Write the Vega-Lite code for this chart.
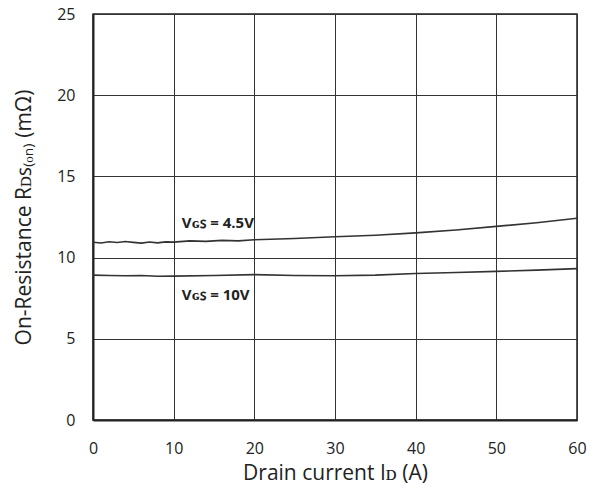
{
  "$schema": "https://vega.github.io/schema/vega-lite/v6.json",
  "width": 484,
  "height": 406,
  "autosize": {"type": "none"},
  "padding": {"left": 93, "top": 14, "right": 13, "bottom": 65},
  "background": "white",
  "config": {
    "font": "Open Sans",
    "view": {"stroke": "#222", "strokeWidth": 1.5},
    "axis": {
      "grid": true,
      "gridColor": "#333",
      "gridWidth": 1,
      "gridOpacity": 1,
      "domainColor": "#222",
      "domainWidth": 2,
      "ticks": false,
      "labelFlush": false,
      "labelFont": "Open Sans",
      "labelFontSize": 16,
      "labelColor": "#222",
      "titleFont": "Open Sans",
      "titleFontSize": 21,
      "titleFontWeight": "normal",
      "titleColor": "#222"
    }
  },
  "datasets": {
    "curves": [
      {"id": 0, "r": 10.95, "vgs": "4.5V"}, {"id": 1, "r": 10.9, "vgs": "4.5V"},
      {"id": 2, "r": 10.98, "vgs": "4.5V"}, {"id": 3, "r": 10.93, "vgs": "4.5V"},
      {"id": 4, "r": 10.99, "vgs": "4.5V"}, {"id": 5, "r": 10.94, "vgs": "4.5V"},
      {"id": 6, "r": 10.89, "vgs": "4.5V"}, {"id": 7, "r": 10.96, "vgs": "4.5V"},
      {"id": 8, "r": 10.91, "vgs": "4.5V"}, {"id": 9, "r": 10.97, "vgs": "4.5V"},
      {"id": 10, "r": 10.95, "vgs": "4.5V"}, {"id": 12, "r": 11.03, "vgs": "4.5V"},
      {"id": 14, "r": 11.0, "vgs": "4.5V"}, {"id": 16, "r": 11.06, "vgs": "4.5V"},
      {"id": 18, "r": 11.03, "vgs": "4.5V"}, {"id": 20, "r": 11.1, "vgs": "4.5V"},
      {"id": 25, "r": 11.18, "vgs": "4.5V"}, {"id": 30, "r": 11.28, "vgs": "4.5V"},
      {"id": 35, "r": 11.38, "vgs": "4.5V"}, {"id": 40, "r": 11.52, "vgs": "4.5V"},
      {"id": 45, "r": 11.7, "vgs": "4.5V"}, {"id": 50, "r": 11.92, "vgs": "4.5V"},
      {"id": 55, "r": 12.15, "vgs": "4.5V"}, {"id": 60, "r": 12.42, "vgs": "4.5V"},
      {"id": 0, "r": 8.92, "vgs": "10V"}, {"id": 2, "r": 8.9, "vgs": "10V"},
      {"id": 4, "r": 8.88, "vgs": "10V"}, {"id": 6, "r": 8.9, "vgs": "10V"},
      {"id": 8, "r": 8.85, "vgs": "10V"}, {"id": 10, "r": 8.86, "vgs": "10V"},
      {"id": 15, "r": 8.9, "vgs": "10V"}, {"id": 20, "r": 8.95, "vgs": "10V"},
      {"id": 25, "r": 8.9, "vgs": "10V"}, {"id": 30, "r": 8.88, "vgs": "10V"},
      {"id": 35, "r": 8.92, "vgs": "10V"}, {"id": 40, "r": 9.02, "vgs": "10V"},
      {"id": 45, "r": 9.08, "vgs": "10V"}, {"id": 50, "r": 9.15, "vgs": "10V"},
      {"id": 55, "r": 9.23, "vgs": "10V"}, {"id": 60, "r": 9.32, "vgs": "10V"}
    ],
    "labels": [
      {"id": 11, "r": 12.1, "text": "Vɢꜱ = 4.5V"},
      {"id": 11, "r": 7.7, "text": "Vɢꜱ = 10V"}
    ]
  },
  "layer": [
    {
      "data": {"name": "curves"},
      "mark": {"type": "line", "color": "#333", "strokeWidth": 1.6, "clip": true},
      "encoding": {
        "x": {
          "field": "id", "type": "quantitative",
          "scale": {"domain": [0, 60], "nice": false},
          "axis": {"values": [0, 10, 20, 30, 40, 50, 60], "labelPadding": 20, "title": "Drain current Iᴅ (A)", "titlePadding": 6}
        },
        "y": {
          "field": "r", "type": "quantitative",
          "scale": {"domain": [0, 25], "nice": false},
          "axis": {"values": [0, 5, 10, 15, 20, 25], "labelPadding": 18, "title": "On-Resistance  Rᴅꜱ₍ₒₙ₎ (mΩ)", "titlePadding": 22}
        },
        "detail": {"field": "vgs"}
      }
    },
    {
      "data": {"name": "labels"},
      "mark": {"type": "text", "align": "left", "baseline": "middle", "fontWeight": "bold", "fontSize": 15, "color": "#222", "font": "Open Sans"},
      "encoding": {
        "x": {"field": "id", "type": "quantitative"},
        "y": {"field": "r", "type": "quantitative"},
        "text": {"field": "text"}
      }
    }
  ]
}
